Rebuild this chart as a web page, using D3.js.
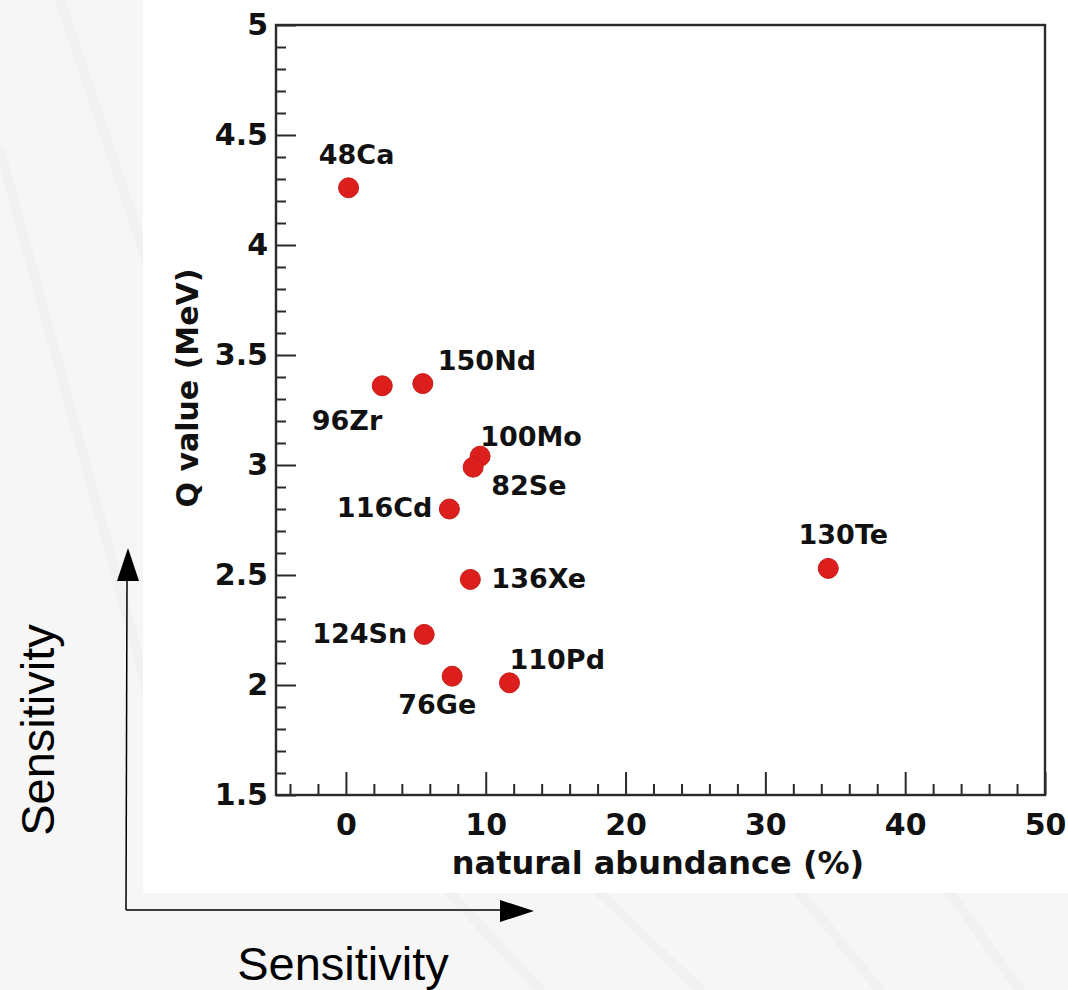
<!DOCTYPE html>
<html>
<head>
<meta charset="utf-8">
<script src="https://cdn.jsdelivr.net/npm/d3@7"></script>
<style>
  html, body { margin: 0; padding: 0; background: #f5f5f5; }
  svg { display: block; }
</style>
</head>
<body>
<script>
// ---- data ----
const isotopes   = ["48Ca", "96Zr", "150Nd", "100Mo", "82Se", "116Cd", "136Xe", "124Sn", "110Pd", "76Ge", "130Te"];
const abundance  = [0.19, 2.6, 5.5, 9.6, 9.1, 7.4, 8.9, 5.6, 11.7, 7.6, 34.5];
const qValue     = [4.26, 3.36, 3.37, 3.04, 2.99, 2.80, 2.48, 2.23, 2.01, 2.04, 2.53];
const xMajorTicks = [0, 10, 20, 30, 40, 50];
const yMajorTicks = [1.5, 2, 2.5, 3, 3.5, 4, 4.5, 5];
const xTitle = "natural abundance (%)";
const yTitle = "Q value (MeV)";
const arrowLabel = "Sensitivity";

// label placement: anchor, dx, dy (presentation only)
const labelPos = {
  "48Ca":  ["middle", 8, -24],
  "96Zr":  ["end", 0, 44],
  "150Nd": ["start", 15, -14],
  "100Mo": ["start", 0, -10],
  "82Se":  ["start", 18, 28],
  "116Cd": ["end", -17, 8],
  "136Xe": ["start", 21, 9],
  "124Sn": ["end", -17, 9],
  "110Pd": ["start", 0, -14],
  "76Ge":  ["middle", -15, 38],
  "130Te": ["middle", 15, -24]
};

const W = 1068, H = 990;
const mLeft = 276, mRight = 1045, mTop = 25, mBottom = 795;
const boldFont = "'DejaVu Sans', sans-serif";

const svg = d3.select("body").append("svg").attr("width", W).attr("height", H);

// background
svg.append("rect").attr("width", W).attr("height", H).attr("fill", "#f6f6f6");
const streaks = [[60, 0, 260, 600], [0, 150, 150, 700], [600, 893, 700, 990], [800, 893, 880, 990], [950, 893, 1020, 990], [450, 893, 540, 990]];
svg.append("g").selectAll("line").data(streaks).join("line")
  .attr("x1", d => d[0]).attr("y1", d => d[1]).attr("x2", d => d[2]).attr("y2", d => d[3])
  .attr("stroke", "#ededed").attr("stroke-width", 10).attr("stroke-linecap", "round").attr("opacity", 0.45);
svg.append("rect").attr("x", 143).attr("y", 0).attr("width", W - 143).attr("height", 893).attr("fill", "#ffffff");

// scales
const x = d3.scaleLinear().domain([-5, 50]).range([mLeft, mRight]);
const y = d3.scaleLinear().domain([1.5, 5]).range([mBottom, mTop]);

const xMinor = d3.range(-4, 50, 2).filter(v => v % 10 !== 0);
const yMinor = d3.range(16, 50, 1).map(v => v / 10).filter(v => Math.round(v * 10) % 5 !== 0);

// minor ticks
svg.append("g").attr("transform", `translate(0,${mBottom})`)
  .call(d3.axisBottom(x).tickValues(xMinor).tickSize(-11).tickFormat(""))
  .call(g => g.select(".domain").remove())
  .call(g => g.selectAll("line").attr("stroke", "#2a2a2a").attr("stroke-width", 2));
svg.append("g").attr("transform", `translate(${mLeft},0)`)
  .call(d3.axisLeft(y).tickValues(yMinor).tickSize(-10).tickFormat(""))
  .call(g => g.select(".domain").remove())
  .call(g => g.selectAll("line").attr("stroke", "#2a2a2a").attr("stroke-width", 2));

// major ticks + labels
svg.append("g").attr("transform", `translate(0,${mBottom})`)
  .call(d3.axisBottom(x).tickValues(xMajorTicks).tickSize(-23).tickPadding(19).tickFormat(d3.format("d")))
  .call(g => g.select(".domain").remove())
  .call(g => g.selectAll("line").attr("stroke", "#2a2a2a").attr("stroke-width", 2))
  .call(g => g.selectAll("text").attr("font-family", boldFont).attr("font-weight", "bold")
    .attr("font-size", 30).attr("fill", "#111"));
svg.append("g").attr("transform", `translate(${mLeft},0)`)
  .call(d3.axisLeft(y).tickValues(yMajorTicks).tickSize(-20).tickPadding(8).tickFormat(d => String(d)))
  .call(g => g.select(".domain").remove())
  .call(g => g.selectAll("line").attr("stroke", "#2a2a2a").attr("stroke-width", 2))
  .call(g => g.selectAll("text").attr("font-family", boldFont).attr("font-weight", "bold")
    .attr("font-size", 30).attr("fill", "#111"));

// frame
svg.append("rect").attr("x", mLeft).attr("y", mTop).attr("width", mRight - mLeft).attr("height", mBottom - mTop)
  .attr("fill", "none").attr("stroke", "#2a2a2a").attr("stroke-width", 2.4);

// axis titles
svg.append("text").attr("x", 658).attr("y", 874).attr("text-anchor", "middle")
  .attr("font-family", boldFont).attr("font-weight", "bold").attr("font-size", 32).attr("fill", "#111")
  .text(xTitle);
svg.append("text").attr("transform", "translate(198,388) rotate(-90)").attr("text-anchor", "middle")
  .attr("font-family", boldFont).attr("font-weight", "bold").attr("font-size", 30).attr("fill", "#111")
  .text(yTitle);

// points
const pts = isotopes.map((name, i) => ({ name, ab: abundance[i], q: qValue[i] }));
svg.append("g").selectAll("circle").data(pts).join("circle")
  .attr("cx", d => x(d.ab)).attr("cy", d => y(d.q)).attr("r", 10)
  .attr("fill", "#dc1f1c").attr("stroke", "#c81a17").attr("stroke-width", 1);

svg.append("g").selectAll("text").data(pts).join("text")
  .attr("x", d => x(d.ab) + labelPos[d.name][1])
  .attr("y", d => y(d.q) + labelPos[d.name][2])
  .attr("text-anchor", d => labelPos[d.name][0])
  .attr("font-family", boldFont).attr("font-weight", "bold").attr("font-size", 27).attr("fill", "#111")
  .text(d => d.name);

// sensitivity arrows
const ag = svg.append("g");
ag.append("line").attr("x1", 126).attr("y1", 910).attr("x2", 127).attr("y2", 580).attr("stroke", "#000").attr("stroke-width", 1.5);
ag.append("line").attr("x1", 126).attr("y1", 910).attr("x2", 502).attr("y2", 910).attr("stroke", "#000").attr("stroke-width", 1.5);
ag.append("path").attr("d", "M128,548 L117,581 L139,581 Z").attr("fill", "#000");
ag.append("path").attr("d", "M534,911 L500,900 L500,922 Z").attr("fill", "#000");

svg.append("text").attr("x", 343).attr("y", 980).attr("text-anchor", "middle")
  .attr("font-family", "'Liberation Sans', Arial, sans-serif").attr("font-size", 47).attr("fill", "#000")
  .text(arrowLabel);
svg.append("text").attr("transform", "translate(54,730) rotate(-90)").attr("text-anchor", "middle")
  .attr("font-family", "'Liberation Sans', Arial, sans-serif").attr("font-size", 47).attr("fill", "#000")
  .text(arrowLabel);
</script>
</body>
</html>
